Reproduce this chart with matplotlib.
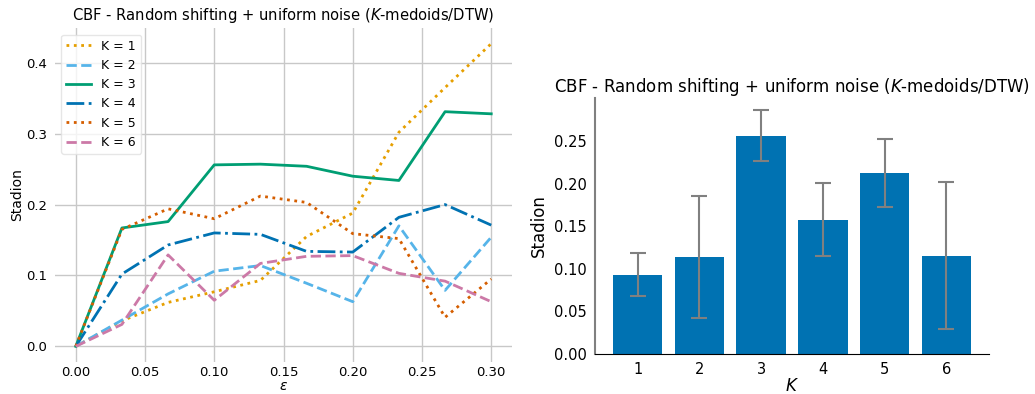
import numpy as np
import matplotlib
matplotlib.use('Agg')
import matplotlib.pyplot as plt

# noise levels and stadion values per K
eps = np.linspace(0, 0.3, 10)
k1 = [0.0, 0.036, 0.062, 0.077, 0.093, 0.155, 0.188, 0.302, 0.365, 0.427]
k2 = [0.0, 0.037, 0.074, 0.106, 0.114, 0.089, 0.063, 0.170, 0.079, 0.154]
k3 = [0.0, 0.167, 0.176, 0.256, 0.257, 0.254, 0.240, 0.234, 0.331, 0.328]
k4 = [0.0, 0.102, 0.143, 0.160, 0.158, 0.134, 0.133, 0.182, 0.200, 0.171]
k5 = [0.0, 0.165, 0.194, 0.180, 0.212, 0.203, 0.159, 0.152, 0.041, 0.095]
k6 = [0.0, 0.031, 0.129, 0.065, 0.117, 0.127, 0.128, 0.103, 0.092, 0.063]

ks = [1, 2, 3, 4, 5, 6]
bar_mean = [0.0933, 0.1144, 0.2567, 0.158, 0.213, 0.1156]
bar_err = [0.0257, 0.0716, 0.0298, 0.043, 0.0402, 0.0868]

title = 'CBF - Random shifting + uniform noise ($K$-medoids/DTW)'

fig = plt.figure(figsize=(10.35, 3.94), dpi=100)

#%% left: stadion vs epsilon
ax1 = fig.add_axes([55/1035, 1-361.5/394, 457/1035, 333/394])
ax1.plot(eps, k1, ':', color='#E69F00', lw=2, label='K = 1')
ax1.plot(eps, k2, '--', color='#56B4E9', lw=2, label='K = 2')
ax1.plot(eps, k3, '-', color='#009E73', lw=2, label='K = 3')
ax1.plot(eps, k4, '-.', color='#0072B2', lw=2, label='K = 4')
ax1.plot(eps, k5, ':', color='#D55E00', lw=2, label='K = 5')
ax1.plot(eps, k6, '--', color='#CC79A7', lw=2, label='K = 6')
ax1.grid(True, color='#c8c8c8', lw=1)
ax1.set_axisbelow(True)
for s in ax1.spines.values():
    s.set_visible(False)
ax1.tick_params(axis='y', length=0, labelsize=9.5, pad=6)
ax1.tick_params(axis='x', length=0, labelsize=9.5, pad=3.5)
ax1.set_yticks([0, 0.1, 0.2, 0.3, 0.4])
ax1.set_xlabel('$\\epsilon$', fontsize=10, labelpad=0)
ax1.set_ylabel('Stadion', fontsize=10, labelpad=1)
ax1.set_title(title, fontsize=10.6)
ax1.legend(loc='upper left', fontsize=9, framealpha=0.8, edgecolor='#e0e0e0')

#%% right: mean stadion per K
ax2 = fig.add_axes([595/1035, 1-354/394, 394/1035, 256/394])
ax2.bar(ks, bar_mean, width=0.8, color='#0072B2', yerr=bar_err,
        error_kw=dict(ecolor='gray', capsize=6, elinewidth=1.5, capthick=1.5))
ax2.spines['top'].set_visible(False)
ax2.spines['right'].set_visible(False)
ax2.spines['left'].set_color('gray')
ax2.spines['left'].set_linewidth(1.5)
ax2.tick_params(length=0, labelsize=10.5, pad=6)
ax2.set_xticks(ks)
ax2.set_yticks([0, 0.05, 0.1, 0.15, 0.2, 0.25])
ax2.set_xlabel('$K$', fontsize=12, labelpad=0)
ax2.set_ylabel('Stadion', fontsize=12)
ax2.set_title(title, fontsize=12, pad=4)

fig.savefig('out.png', dpi=100)
